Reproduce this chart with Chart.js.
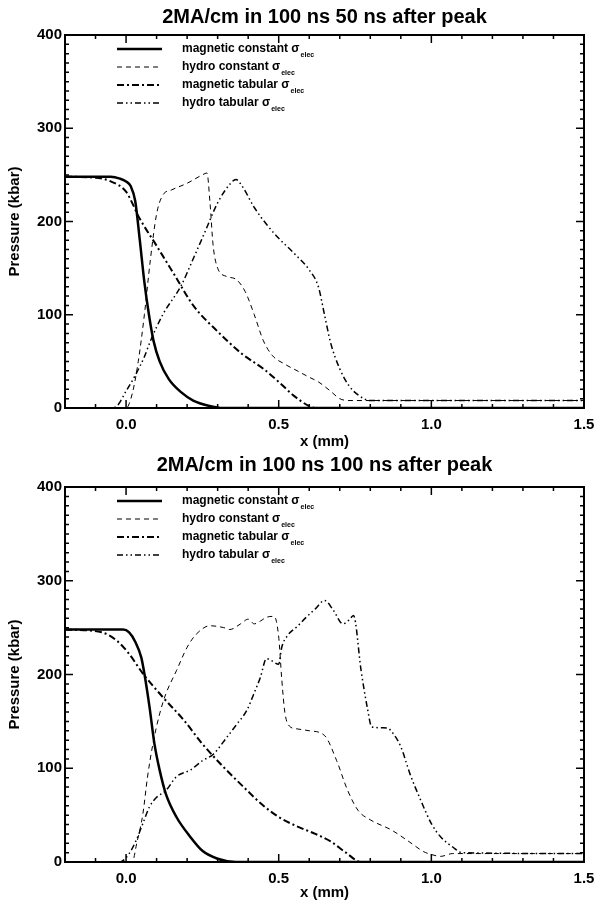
<!DOCTYPE html>
<html>
<head>
<meta charset="utf-8">
<script src="https://cdn.jsdelivr.net/npm/chart.js@4.4.1/dist/chart.umd.min.js"></script>
<style>
  html, body { margin: 0; padding: 0; background: #fff; }
  canvas { display: block; }
</style>
</head>
<body>
<canvas id="top" width="598" height="451"></canvas>
<canvas id="bottom" width="598" height="451"></canvas>
<script>
// 50 ns after peak
const xMagConstA = [-0.2, -0.05, -0.02, 0.0, 0.015, 0.03, 0.045, 0.06, 0.075, 0.09, 0.11, 0.14, 0.18, 0.22, 0.27, 0.32, 1.5];
const pMagConstA = [248, 248, 246, 243, 238, 222, 180, 135, 100, 72, 50, 31, 17, 8, 2.5, 0, 0];
const xHydroConstA = [-0.2, 0.0, 0.02, 0.04, 0.06, 0.08, 0.1, 0.12, 0.15, 0.2, 0.25, 0.265, 0.275, 0.285, 0.3, 0.33, 0.36, 0.39, 0.42, 0.45, 0.48, 0.52, 0.56, 0.6, 0.63, 0.67, 0.7, 0.73, 1.5];
const pHydroConstA = [0, 0, 15, 50, 100, 160, 208, 228, 234, 241, 250, 252, 220, 175, 150, 141, 138, 125, 100, 72, 56, 47, 40, 33, 28, 18, 10, 8, 8];
const xMagTabA = [-0.2, -0.1, -0.05, 0.0, 0.02, 0.04, 0.1, 0.16, 0.22, 0.3, 0.38, 0.45, 0.5, 0.55, 0.6, 0.62, 1.5];
const pMagTabA = [248, 247, 243, 232, 220, 206, 174, 142, 110, 82, 58, 42, 28, 13, 2, 0, 0];
const xHydroTabA = [-0.2, -0.05, -0.03, 0.0, 0.03, 0.06, 0.08, 0.12, 0.18, 0.22, 0.26, 0.3, 0.34, 0.36, 0.38, 0.42, 0.46, 0.5, 0.55, 0.6, 0.63, 0.65, 0.67, 0.7, 0.73, 0.76, 0.8, 1.5];
const pHydroTabA = [0, 0, 2, 18, 35, 55, 72, 100, 131, 160, 190, 220, 240, 245, 238, 215, 197, 182, 166, 148, 130, 100, 70, 42, 24, 14, 8, 8];

// 100 ns after peak
const xMagConstB = [-0.2, -0.01, 0.01, 0.03, 0.05, 0.06, 0.077, 0.093, 0.11, 0.13, 0.165, 0.21, 0.25, 0.3, 0.36, 1.5];
const pMagConstB = [248, 248, 245, 235, 218, 201, 165, 126, 98, 73, 48, 27, 12, 3.5, 0, 0];
const xHydroConstB = [-0.2, 0.02, 0.035, 0.055, 0.07, 0.088, 0.11, 0.13, 0.165, 0.2, 0.23, 0.275, 0.32, 0.34, 0.375, 0.4, 0.42, 0.44, 0.46, 0.485, 0.5, 0.51, 0.52, 0.535, 0.56, 0.6, 0.65, 0.69, 0.725, 0.76, 0.8, 0.87, 0.93, 0.975, 1.0, 1.03, 1.07, 1.5];
const pHydroConstB = [0, 0, 20, 51, 90, 126, 158, 179, 204, 229, 243, 252, 250, 248, 254, 259, 254, 257, 261, 262, 240, 195, 160, 145, 142, 140, 135, 108, 77, 55, 45, 34, 21, 11, 8, 6, 9, 9];
const xMagTabB = [-0.2, -0.08, -0.03, 0.01, 0.055, 0.12, 0.19, 0.25, 0.32, 0.385, 0.45, 0.5, 0.56, 0.62, 0.67, 0.72, 0.77, 1.5];
const pMagTabB = [248, 245, 236, 222, 201, 176, 151, 126, 101, 80, 60, 48, 38, 30, 22, 10, 0, 0];
const xHydroTabB = [-0.2, -0.02, 0.01, 0.033, 0.055, 0.077, 0.1, 0.13, 0.165, 0.21, 0.25, 0.286, 0.33, 0.363, 0.396, 0.418, 0.44, 0.46, 0.475, 0.5, 0.51, 0.53, 0.56, 0.59, 0.62, 0.65, 0.68, 0.71, 0.73, 0.745, 0.77, 0.79, 0.805, 0.855, 0.875, 0.9, 0.93, 0.965, 1.0, 1.03, 1.07, 1.1, 1.5];
const pHydroTabB = [0, 0, 9, 23, 41, 59, 69, 76, 91, 98, 108, 115, 133, 147, 162, 179, 197, 217, 215, 211, 229, 242, 251, 261, 270, 279, 268, 254, 258, 263, 204, 165, 144, 143, 137, 123, 94, 66, 41, 27, 16, 10, 9];

const seriesNames = ["magnetic constant", "hydro constant", "magnetic tabular", "hydro tabular"];
const lineStyles = [
  { width: 2.5, dash: [] },
  { width: 1, dash: [5, 4] },
  { width: 2, dash: [7, 3, 2, 3] },
  { width: 1.5, dash: [6, 3, 1.5, 3, 1.5, 3] }
];

const FONT = "'Liberation Sans', Arial, Helvetica, sans-serif";
const pts = (xs, ys) => xs.map((x, i) => ({ x, y: ys[i] }));

// title, frame with inward ticks on all four sides, and the in-plot legend
const framePlugin = {
  id: "frame",
  afterDraw(chart, args, opts) {
    const { ctx, chartArea: a, scales } = chart;
    const sx = scales.x, sy = scales.y;
    ctx.save();
    ctx.fillStyle = "#000";
    ctx.font = "bold 20px " + FONT;
    ctx.textAlign = "center";
    ctx.textBaseline = "middle";
    ctx.fillText(opts.title, (a.left + a.right) / 2, opts.titleY);

    ctx.strokeStyle = "#000";
    ctx.setLineDash([]);
    ctx.lineWidth = 2;
    ctx.strokeRect(a.left, a.top, a.right - a.left, a.bottom - a.top);
    ctx.lineWidth = 1.5;
    ctx.beginPath();
    for (let k = -2; k <= 15; k++) {
      const px = sx.getPixelForValue(k / 10);
      const len = k % 5 === 0 ? 8 : 4;
      ctx.moveTo(px, a.bottom); ctx.lineTo(px, a.bottom - len);
      ctx.moveTo(px, a.top); ctx.lineTo(px, a.top + len);
    }
    for (let k = 0; k <= 40; k++) {
      const py = sy.getPixelForValue(k * 10);
      const len = k % 10 === 0 ? 8 : 4;
      ctx.moveTo(a.left, py); ctx.lineTo(a.left + len, py);
      ctx.moveTo(a.right, py); ctx.lineTo(a.right - len, py);
    }
    ctx.stroke();

    // legend
    ctx.textAlign = "left";
    seriesNames.forEach((name, i) => {
      const y = a.top + 14 + i * 18;
      const st = lineStyles[i];
      ctx.lineWidth = st.width;
      ctx.setLineDash(st.dash);
      ctx.beginPath();
      ctx.moveTo(117, y); ctx.lineTo(162, y);
      ctx.stroke();
      ctx.setLineDash([]);
      ctx.font = "bold 12px " + FONT;
      const txt = name + " \u03c3";
      ctx.fillText(txt, 182, y);
      const w = ctx.measureText(txt).width;
      ctx.font = "bold 7px " + FONT;
      ctx.fillText("elec", 182 + w + 1, y + 6);
    });
    ctx.restore();
  }
};

function makeChart(id, title, sets, top, titleY, xHeight) {
  const datasets = sets.map((s, i) => ({
    label: seriesNames[i],
    data: pts(s[0], s[1]),
    borderColor: "#000",
    borderWidth: lineStyles[i].width,
    borderDash: lineStyles[i].dash,
    pointRadius: 0,
    cubicInterpolationMode: "monotone",
    fill: false
  }));
  return new Chart(document.getElementById(id), {
    type: "line",
    data: { datasets },
    plugins: [framePlugin],
    options: {
      responsive: false,
      animation: false,
      layout: { padding: { top: top, right: 14, left: 0, bottom: 0 } },
      plugins: {
        legend: { display: false },
        tooltip: { enabled: false },
        title: { display: false },
        frame: { title, titleY }
      },
      scales: {
        x: {
          type: "linear",
          min: -0.2,
          max: 1.5,
          grid: { display: false, drawTicks: false },
          border: { display: false },
          ticks: {
            stepSize: 0.5,
            includeBounds: false,
            maxRotation: 0,
            padding: 8,
            color: "#000",
            font: { family: FONT, size: 15, weight: "bold" },
            callback: v => v.toFixed(1)
          },
          title: {
            display: true,
            text: "x (mm)",
            color: "#000",
            font: { family: FONT, size: 15, weight: "bold" },
            padding: { top: 0, bottom: 0 }
          },
          afterFit: s => { s.height = xHeight; s.paddingLeft = 0; s.paddingRight = 0; }
        },
        y: {
          min: 0,
          max: 400,
          grid: { display: false, drawTicks: false },
          border: { display: false },
          ticks: {
            stepSize: 100,
            padding: 3,
            color: "#000",
            font: { family: FONT, size: 15, weight: "bold" }
          },
          title: {
            display: true,
            text: "Pressure (kbar)",
            color: "#000",
            font: { family: FONT, size: 15, weight: "bold" },
            padding: { top: 6, bottom: 0 }
          },
          afterFit: s => { s.width = 65; s.paddingTop = 0; s.paddingBottom = 0; }
        }
      }
    }
  });
}

makeChart("top", "2MA/cm in 100 ns 50 ns after peak", [
  [xMagConstA, pMagConstA],
  [xHydroConstA, pHydroConstA],
  [xMagTabA, pMagTabA],
  [xHydroTabA, pHydroTabA]
], 35, 17, 43);

makeChart("bottom", "2MA/cm in 100 ns 100 ns after peak", [
  [xMagConstB, pMagConstB],
  [xHydroConstB, pHydroConstB],
  [xMagTabB, pMagTabB],
  [xHydroTabB, pHydroTabB]
], 36, 14.5, 40);
</script>
</body>
</html>
